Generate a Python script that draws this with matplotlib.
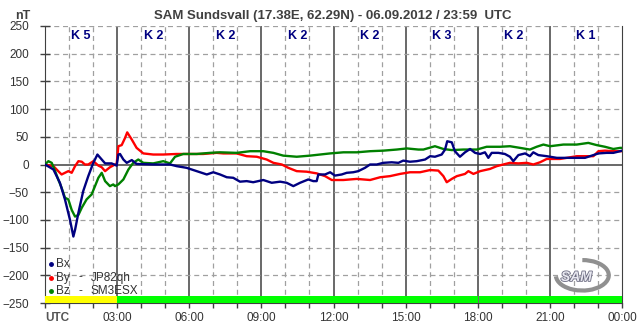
#!/usr/bin/env python3
import matplotlib; matplotlib.use('Agg'); import matplotlib.pyplot as plt
import matplotlib.patheffects as pe
from matplotlib.patches import Arc

plt.rcParams['font.family'] = ['Liberation Sans', 'DejaVu Sans']

# --- data (hours UTC, nT) ---
bx_t = [0, .35, .62, .83, 1.04, 1.18, 1.25, 1.39, 1.59, 1.80, 2.01, 2.18, 2.36, 2.50, 2.77, 2.98, 3.05, 3.12,
        3.26, 3.40, 3.61, 3.81, 4.50, 5.20, 5.48, 5.89, 6.31, 6.73, 7.00, 7.28, 7.56, 7.83, 8.11, 8.39, 8.66,
        9.08, 9.43, 9.78, 10.05, 10.33, 10.61, 10.95, 11.16, 11.30, 11.37, 11.65, 11.86, 12.06, 12.34, 12.55,
        12.82, 13.03, 13.31, 13.52, 13.80, 14.07, 14.42, 14.70, 14.90, 15.18, 15.46, 15.81, 16.02, 16.22,
        16.50, 16.64, 16.73, 16.92, 17.05, 17.26, 17.47, 17.68, 17.89, 18.10, 18.30, 18.44, 18.58, 18.86,
        19.13, 19.34, 19.48, 19.69, 19.97, 20.17, 20.31, 20.52, 20.87, 21.29, 21.84, 22.46, 23.02, 23.36,
        23.64, 23.92, 24.0]
bx_v = [0, -9, -33, -63, -100, -130, -118, -87, -48, -21, 3, 18, 9, 2, 2, -2, 18, 19,
        9, 3, 8, 1, 0, 0, -3, -6, -12, -18, -14, -18, -23, -24, -31, -30, -32,
        -28, -33, -31, -33, -39, -33, -27, -30, -30, -18, -18, -14, -20, -18, -15,
        -14, -12, -6, 0, 0, 3, 4, 3, 7, 5, 6, 9, 15, 14,
        18, 27, 42, 40, 24, 14, 22, 28, 21, 19, 22, 12, 21, 21,
        19, 14, 6, 17, 20, 15, 22, 17, 15, 12, 12, 12, 20, 21,
        21, 24, 25]

by_t = [0, .21, .35, .55, .69, .83, .97, 1.11, 1.25, 1.39, 1.53, 1.66, 1.80, 2.01, 2.22, 2.36, 2.50, 2.70,
        2.91, 2.98, 3.05, 3.19, 3.33, 3.42, 3.61, 3.81, 4.09, 4.50, 4.92, 5.48, 6.03, 6.58, 7.14, 7.42, 7.97,
        8.39, 8.81, 9.22, 9.50, 9.85, 10.12, 10.47, 10.89, 11.16, 11.30, 11.65, 11.93, 12.41, 12.97, 13.52,
        13.94, 14.35, 14.77, 15.18, 15.60, 16.02, 16.36, 16.57, 16.71, 16.92, 17.13, 17.47, 17.61, 17.82,
        18.10, 18.51, 18.79, 19.06, 19.34, 19.69, 20.04, 20.31, 20.59, 20.87, 21.42, 22.12, 22.81, 23.02,
        23.29, 23.64, 24.0]
by_v = [0, -2, -3, -12, -18, -15, -12, -15, -3, 6, 5, 0, 0, 6, -2, -5, -12, -5,
        0, 0, 33, 35, 48, 58, 45, 30, 20, 18, 18, 19, 19, 19, 21, 20, 20,
        15, 14, 9, 3, 0, -6, -12, -13, -15, -16, -21, -28, -28, -26, -28,
        -23, -21, -17, -14, -14, -10, -11, -21, -32, -26, -21, -17, -12, -17,
        -12, -8, -3, 0, 3, 2, 3, 0, 4, 10, 10, 15, 15, 24,
        25, 24, 24]

bz_t = [0, .14, .28, .42, .55, .69, .83, .97, 1.11, 1.25, 1.39, 1.53, 1.73, 1.94, 2.08, 2.22, 2.36, 2.50,
        2.70, 2.84, 2.91, 3.05, 3.26, 3.47, 3.67, 3.88, 4.09, 4.50, 4.92, 5.20, 5.41, 5.75, 6.31, 6.86, 7.28,
        7.97, 8.53, 9.08, 9.50, 9.91, 10.47, 11.02, 11.44, 11.86, 12.41, 12.97, 13.52, 14.07, 14.63, 15.05,
        15.53, 15.74, 16.22, 16.57, 16.92, 17.40, 17.96, 18.37, 18.93, 19.34, 19.76, 20.17, 20.45, 20.73,
        21.01, 21.56, 22.12, 22.60, 22.95, 23.29, 23.64, 23.92, 24.0]
bz_v = [0, 6, 3, -12, -27, -42, -60, -63, -82, -94, -91, -78, -63, -54, -39, -24, -15, -30,
        -39, -36, -39, -36, -27, -9, 3, 9, 3, 2, 6, 2, 14, 19, 19, 21, 22,
        21, 24, 24, 21, 16, 14, 16, 18, 20, 22, 22, 24, 25, 27, 29,
        27, 27, 33, 28, 26, 27, 27, 32, 32, 33, 30, 27, 32, 36,
        33, 36, 36, 39, 35, 32, 28, 30, 30]

k_index = [5, 2, 2, 2, 2, 3, 2, 1]
hour_labels = ['UTC', '03:00', '06:00', '09:00', '12:00', '15:00', '18:00', '21:00', '00:00']
# status bar underneath: (start, end, colour)
status = [(0, 3, '#ffff00'), (3, 18, '#00ff00'), (18.05, 24, '#00ff00')]

# --- figure ---
fig = plt.figure(figsize=(6.43, 3.31), dpi=100)
ax = fig.add_axes([45/643, 1-303/331, 577/643, 277/331])
ax.set_xlim(0, 24); ax.set_ylim(-250, 250)
dark = '#404040'

for h in range(1, 24):
    if h % 3: ax.axvline(h, color='#a0a0a0', lw=0.9, ls=(0, (4, 3)), zorder=1)
    else: ax.axvline(h, color=dark, lw=1.1, zorder=1)
for y in range(-200, 251, 50):
    if y: ax.axhline(y, color='#a0a0a0', lw=0.9, ls=(0, (4, 3)), zorder=1)
ax.axhline(0, color=dark, lw=1.1, zorder=1)

for s, e, c in status:
    ax.bar(s, 13, width=e-s, bottom=-250, align='edge', color=c, lw=0, zorder=3)

ax.plot(bx_t, bx_v, color='#000080', lw=1.7, zorder=5)
ax.plot(by_t, by_v, color='#ff0000', lw=1.7, zorder=4)
ax.plot(bz_t, bz_v, color='#008000', lw=1.7, zorder=4)

for i, k in enumerate(k_index):
    ax.text(1.5 + 3*i, 232, f'K {k}', ha='center', va='center', color='#000080',
            fontsize=9, fontweight='bold', zorder=6)

ax.set_yticks(range(-250, 251, 50))
ax.set_xticks(range(0, 25, 3)); ax.set_xticklabels(hour_labels)
ax.set_xticks(range(0, 25), minor=True)
ax.tick_params(axis='y', direction='inout', length=7, width=1, color=dark, labelsize=8.5,
               labelcolor='#333333', pad=8)
ax.tick_params(axis='x', which='both', direction='out', length=3.5, width=1, color=dark,
               labelsize=8.5, labelcolor='#333333', pad=3)
utc = ax.get_xticklabels()[0]
utc.set_ha('left'); utc.set_fontweight('bold'); utc.set_color('#555555')
ax.spines['top'].set_visible(False)
for sp in ['left', 'right', 'bottom']: ax.spines[sp].set_color(dark)

# legend
leg = [('#000080', 'Bx', ''), ('#ff0000', 'By', 'JP82qh'), ('#008000', 'Bz', 'SM3ESX')]
for i, (c, a, b) in enumerate(leg):
    yy = -180 - 24*i
    ax.plot([0.25], [yy], marker='o', ms=2.5, color=c, ls='none', zorder=6)
    ax.text(0.45, yy, a, va='center', fontsize=8.5, color='#333333')
    if b:
        ax.text(1.4, yy, '-', va='center', fontsize=8.5, color='#333333')
        ax.text(1.9, yy, b, va='center', fontsize=8.5, color='#333333')

# SAM logo
ax.add_patch(Arc((22.35, -200), 2.2, 55, theta1=-120, theta2=90, color='#909090', lw=3, zorder=2))
ax.text(22.1, -203, 'SAM', ha='center', va='center', fontsize=10, style='italic', fontweight='bold',
        color='#e8e8f0', zorder=3, path_effects=[pe.withStroke(linewidth=1.2, foreground='#6a6a80')])

fig.text(333/643, 1-16/331, 'SAM Sundsvall (17.38E, 62.29N) - 06.09.2012 / 23:59  UTC', ha='center',
         va='center', fontsize=9.5, fontweight='bold', color='#404040')
fig.text(15/643, 1-16/331, 'nT', ha='left', va='center', fontsize=9, fontweight='bold', color='#404040')

fig.savefig('out.png', dpi=100)
